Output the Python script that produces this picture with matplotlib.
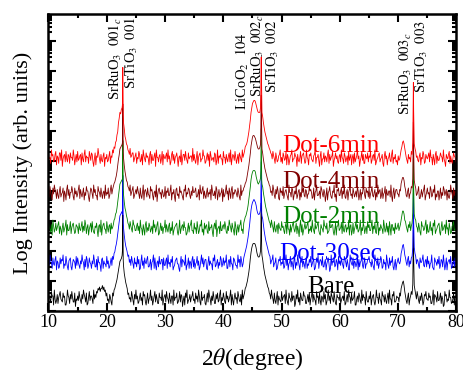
import numpy as np
import matplotlib
matplotlib.use('Agg')
import matplotlib.pyplot as plt
from matplotlib.ticker import LogLocator, NullFormatter, MultipleLocator
from matplotlib.transforms import blended_transform_factory

plt.rcParams['font.family'] = ['Liberation Serif', 'DejaVu Serif']
plt.rcParams['mathtext.fontset'] = 'stix'

# ---------------- data ----------------
# scan: 2theta from 10 deg, one value every 0.25 deg ("on" list) and one in between ("mid" list)
two_theta_start = 10.0
two_theta_step = 0.25
# extra measured points across the sharp SrTiO3 substrate reflections
sharp_two_theta = [22.68, 22.72, 22.78, 22.82, 46.42, 46.47, 46.53, 46.58, 72.55, 72.6, 72.65]

# log-intensity, in units of 0.05 decade relative to each trace's baseline
unit_decade = 0.05

bare_on = [
    -2, -6, -1, -4, 0, -9, -3, -5, -1, -7, -2, -4, -10, 0, -5, -3, -1, -8, -2, -6,
    -4, -1, -7, -3, 0, -5, -2, -9, -1, -4, -6, 0, -3, -1, 1, 2, 1, 3, 2, 0,
    -2, -6, -3, -8, -2, 0, 3, 7, 13, 19, 21, 50, 11, 5, 1, -2, -5, -1, -7, -3,
    0, -4, -8, -2, -5, -1, -3, -10, -2, -6, 0, -4, -7, -1, -3, -9, -2, -5, 0, -6,
    -3, -1, -6, -2, -9, -4, 0, -5, -2, -8, -1, -3, -11, -4, -2, 0, -7, -3, -5, -1,
    -6, -2, -4, 0, -8, -1, -5, -3, -10, -2, 0, -6, -4, -1, -9, -3, -2, -7, 0, -5,
    -2, -8, -1, -4, -6, 0, -3, -10, -2, -5, -1, -7, -3, 0, -4, 1, 4, 9, 16, 25,
    30, 31, 30, 25, 22, 23, 58, 20, 13, 8, 4, 1, -3, 0, -6, -2, -9, -1, -4, -7,
    -1, -5, -3, 0, -8, -2, -6, -1, -4, -11, -3, 0, -5, -2, -7, -1, -4, -9, -3, -2,
    -6, 0, -3, -7, -1, -4, -2, -10, -5, -1, -3, -8, 0, -4, -2, -6, -1, -9, -3, -5,
    -2, -7, -4, -1, -9, -3, 0, -5, -2, -6, -1, -10, -4, -2, -7, 0, -3, -5, -1, -8,
    -4, -1, -6, -3, -10, 0, -5, -2, -7, -1, -4, -3, -9, -2, 0, -6, -3, -1, -8, -4,
    -5, -2, 1, 5, 3, -4, -9, -2, -6, -1, 4, 3, -3, -1, -7, -4, -2, -10, -3, -1,
    -6, -2, -4, -9, 0, -3, -5, -1, -7, -2, -4, -11, -1, -3, -6, 0, -5, -8, -2, -4,
]
bare_mid = [
    -5, -8, -4, -10, -6, -7, -9, -3, -6, -8, -5, -10, -7, -4, -9, -6, -5, -8, -11, -7,
    -7, -5, -9, -6, -3, -8, -10, -5, -7, -4, -9, -6, -5, -2, 0, -1, 1, 0, -1, -4,
    -7, -9, -5, -10, -4, 1, 5, 10, 16, 20, 23, 16, 8, 3, -3, -6, -8, -4, -10, -6,
    -6, -9, -5, -7, -10, -4, -8, -6, -9, -5, -7, -10, -4, -8, -6, -9, -5, -7, -10, -4,
    -8, -5, -9, -6, -4, -10, -7, -5, -9, -6, -8, -4, -7, -10, -5, -9, -6, -8, -4, -7,
    -9, -6, -8, -4, -10, -7, -5, -9, -6, -8, -4, -10, -7, -5, -9, -6, -8, -3, -10, -7,
    -5, -9, -6, -8, -4, -10, -7, -5, -6, -9, -4, -8, -10, -6, -2, 2, 6, 12, 21, 28,
    31, 31, 28, 23, 22, 26, 23, 16, 10, 6, 2, -2, -6, -4, -9, -7, -5, -10, -6, -8,
    -7, -4, -9, -6, -10, -5, -8, -7, -4, -9, -6, -8, -10, -5, -7, -4, -9, -6, -8, -10,
    -4, -8, -6, -10, -5, -9, -7, -4, -8, -6, -10, -5, -7, -9, -4, -8, -6, -10, -5, -7,
    -9, -5, -7, -10, -6, -8, -4, -9, -7, -5, -10, -6, -8, -4, -9, -7, -5, -10, -6, -8,
    -6, -10, -4, -8, -7, -5, -9, -6, -10, -4, -8, -7, -5, -9, -6, -10, -4, -8, -7, -5,
    -8, -4, 3, 6, -1, -7, -5, -10, -4, -3, 32, 0, -6, -4, -9, -7, -5, -8, -4, -6,
    -7, -5, -9, -6, -10, -4, -8, -7, -5, -9, -6, -10, -4, -8, -7, -5, -9, -6, -10, -4,
]
sec30_on = [
    -3, 0, -5, -2, -7, -1, -4, -9, -2, -3, 0, -6, -1, -8, -4, -2, -10, -3, -5, -1,
    -2, -7, -4, 0, -5, -3, -1, -9, -2, -6, -4, 0, -8, -3, -1, -5, -11, -2, -4, -6,
    -1, -4, -8, -2, -1, 1, 5, 10, 18, 26, 28, 53, 13, 6, 2, 0, -3, -1, -6, -2,
    -5, -1, -3, -9, 0, -4, -2, -6, -1, -8, -3, -5, 0, -2, -10, -4, -1, -6, -3, -2,
    -7, -2, 0, -5, -3, -1, -8, -4, -2, -6, -11, -1, -3, -5, 0, -7, -2, -4, -9, -1,
    -3, -6, -1, -4, -8, 0, -2, -5, -3, -10, -1, -4, -6, -2, 0, -7, -3, -5, -1, -8,
    -2, -4, 0, -9, -3, -1, -6, -2, -5, -7, 0, -3, -1, -8, -2, 2, 6, 12, 20, 30,
    35, 37, 35, 30, 27, 28, 62, 24, 16, 10, 6, 2, -1, -4, 0, -6, -2, -9, -3, -1,
    -5, -2, -8, 0, -3, -6, -1, -4, -10, -2, -5, 0, -7, -3, -1, -4, -9, -2, -6, -3,
    -1, -6, -3, -9, -2, 0, -5, -4, -1, -8, -3, -6, -2, -11, 0, -4, -2, -7, -5, -1,
    -4, -2, -7, -1, -5, -3, -10, 0, -6, -2, -4, -8, -1, -3, -5, 0, -9, -2, -6, -3,
    -1, -5, -3, -8, 0, -4, -2, -6, -1, -9, -3, -5, 0, -7, -2, -4, -1, -10, -3, -6,
    -2, -6, 1, 6, 4, -2, -7, -1, -4, -2, 5, 5, -1, -3, -7, -2, -5, 0, -8, -3,
    -1, -4, -6, 0, -9, -2, -5, -3, -1, -7, -4, 0, -10, -2, -5, -3, -1, -8, -4, -2,
]
sec30_mid = [
    -7, -4, -9, -6, -3, -10, -5, -8, -6, -4, -9, -7, -5, -10, -3, -8, -6, -4, -9, -7,
    -5, -9, -6, -4, -10, -8, -3, -7, -5, -9, -6, -4, -8, -10, -5, -7, -3, -9, -6, -8,
    -6, -9, -5, -7, -3, 2, 7, 14, 22, 27, 29, 18, 9, 4, -1, -5, -7, -4, -9, -6,
    -8, -6, -10, -4, -7, -9, -5, -3, -8, -6, -10, -4, -9, -7, -5, -8, -6, -3, -10, -7,
    -4, -9, -6, -8, -5, -10, -7, -3, -6, -9, -5, -8, -4, -7, -10, -6, -9, -5, -3, -8,
    -9, -5, -7, -10, -4, -6, -8, -3, -9, -5, -7, -6, -10, -4, -8, -5, -9, -7, -3, -6,
    -7, -5, -9, -4, -8, -6, -10, -3, -7, -9, -5, -8, -4, -6, 0, 4, 9, 16, 25, 33,
    36, 36, 33, 28, 27, 30, 26, 20, 13, 8, 4, 0, -6, -3, -8, -5, -10, -6, -4, -7,
    -6, -9, -4, -7, -10, -5, -8, -6, -3, -9, -7, -4, -10, -5, -8, -6, -4, -9, -7, -5,
    -8, -4, -10, -6, -5, -9, -3, -7, -8, -5, -10, -4, -6, -9, -7, -5, -8, -3, -10, -6,
    -7, -5, -9, -3, -8, -6, -10, -4, -7, -9, -5, -6, -10, -8, -4, -7, -5, -9, -6, -3,
    -5, -8, -6, -10, -4, -7, -9, -5, -3, -8, -6, -10, -4, -9, -7, -5, -8, -6, -10, -4,
    -5, -4, 3, 7, 0, -5, -3, -8, -6, -1, 34, 1, -6, -4, -9, -5, -3, -7, -4, -8,
    -6, -9, -5, -8, -10, -4, -7, -6, -9, -3, -8, -5, -7, -10, -4, -6, -9, -5, -8, -7,
]
min2_on = [
    -1, -6, -3, 0, -8, -2, -5, -1, -4, -10, -2, -6, 0, -3, -7, -1, -5, -2, -9, -3,
    -5, -2, -7, -1, -4, 0, -9, -3, -6, -2, -1, -8, -4, -2, -11, -3, 0, -5, -2, -6,
    -1, -8, -3, -2, -5, 0, 4, 8, 16, 24, 26, 53, 12, 6, 1, -3, -1, -6, 0, -4,
    -7, -2, -4, 0, -6, -3, -10, -1, -5, -2, -8, -4, 0, -3, -6, -1, -9, -2, -4, -5,
    0, -3, -8, -2, -5, -1, -7, -4, -2, -10, 0, -6, -3, -1, -5, -9, -2, -4, 0, -7,
    -2, -5, -1, -9, -3, 0, -6, -2, -4, -8, -1, -5, -3, -11, -2, 0, -6, -4, -1, -7,
    -3, -1, -8, -4, 0, -5, -2, -7, -1, -10, -3, -4, 0, -6, -2, 2, 5, 10, 18, 27,
    32, 33, 32, 27, 24, 26, 61, 22, 15, 9, 5, 1, -2, 0, -5, -1, -8, -3, -2, -6,
    -1, -4, -9, -2, 0, -6, -3, -5, -1, -8, -2, -4, -11, 0, -3, -7, -2, -5, -1, -6,
    -4, 0, -7, -2, -5, -1, -9, -3, -6, 0, -4, -2, -8, -1, -5, -3, -10, -2, -4, 0,
    -6, -2, -1, -8, -3, -5, 0, -4, -10, -2, -6, -1, -3, -7, 0, -5, -2, -9, -4, -1,
    -3, -7, 0, -4, -2, -9, -1, -5, -3, -6, 0, -8, -2, -4, -1, -10, -3, -5, -2, -6,
    -2, -5, 0, 6, 4, -1, -6, -3, -1, -4, 5, 4, 0, -5, -2, -8, -1, -4, -6, 0,
    -3, -8, -1, -5, -2, 0, -7, -4, -2, -10, -1, -6, -3, 0, -5, -2, -9, -4, -1, -6,
]
min2_mid = [
    -5, -8, -10, -4, -6, -7, -3, -9, -6, -5, -8, -4, -10, -7, -5, -9, -3, -6, -8, -4,
    -9, -6, -4, -8, -7, -3, -5, -10, -4, -8, -6, -9, -5, -7, -4, -8, -10, -3, -6, -9,
    -5, -4, -9, -6, -3, 1, 5, 12, 20, 25, 27, 17, 8, 3, -2, -6, -4, -8, -3, -7,
    -4, -7, -9, -5, -10, -6, -3, -8, -7, -4, -6, -9, -5, -8, -3, -10, -6, -7, -9, -5,
    -8, -6, -4, -9, -7, -10, -5, -3, -8, -6, -9, -4, -7, -5, -10, -6, -8, -3, -7, -9,
    -6, -9, -5, -7, -4, -8, -10, -6, -3, -9, -7, -5, -8, -4, -6, -11, -5, -9, -7, -4,
    -6, -4, -9, -7, -3, -8, -5, -10, -4, -6, -8, -3, -7, -9, 0, 3, 7, 14, 22, 30,
    33, 33, 29, 25, 25, 28, 24, 18, 12, 7, 3, -1, -5, -3, -8, -6, -4, -9, -5, -7,
    -5, -7, -4, -9, -6, -10, -8, -3, -6, -5, -9, -7, -4, -8, -10, -5, -6, -3, -9, -7,
    -8, -5, -9, -6, -3, -7, -10, -5, -8, -4, -6, -9, -7, -5, -3, -8, -6, -10, -4, -7,
    -5, -9, -7, -4, -8, -6, -10, -3, -7, -9, -4, -6, -8, -5, -10, -7, -4, -6, -9, -5,
    -7, -4, -9, -6, -8, -3, -10, -7, -5, -9, -4, -6, -8, -10, -5, -3, -7, -9, -6, -4,
    -7, -3, 3, 6, 0, -4, -8, -5, -7, -2, 33, 1, -4, -8, -5, -10, -4, -7, -3, -9,
    -8, -5, -7, -10, -4, -9, -6, -3, -8, -5, -7, -4, -9, -6, -10, -5, -8, -3, -7, -6,
]
min4_on = [
    -4, -1, -7, -2, 0, -5, -3, -9, -1, -6, -2, -4, -10, 0, -3, -5, -1, -8, -2, -4,
    -6, 0, -3, -8, -2, -5, -1, -4, -11, -2, -6, 0, -3, -7, -1, -5, -2, -9, -4, 0,
    -5, -2, -7, 0, -3, 1, 4, 9, 17, 24, 26, 54, 13, 6, 2, -2, 0, -5, -1, -7,
    -3, -1, -6, -2, -9, 0, -4, -5, -2, -7, -1, -3, -10, -4, 0, -6, -2, -5, -3, -8,
    -1, -4, -2, -7, 0, -5, -3, -11, -2, -6, -1, -4, -8, -3, 0, -5, -2, -7, -4, -1,
    -5, -2, -8, -3, 0, -6, -1, -4, -9, -2, -5, -3, 0, -7, -4, -1, -10, -3, -6, -2,
    -3, -7, 0, -4, -2, -9, -1, -5, -3, -6, -2, -8, 0, -4, -2, 1, 4, 10, 17, 26,
    32, 33, 31, 27, 24, 25, 60, 21, 14, 9, 5, 2, -1, -4, 0, -7, -3, -1, -9, -2,
    -4, -1, -6, -3, -8, 0, -5, -2, -10, -4, -1, -7, -3, -5, 0, -2, -8, -4, -6, -1,
    -3, -9, -2, -5, 0, -7, -4, -1, -6, -3, -11, -2, -5, -1, -8, -4, 0, -6, -3, -2,
    -7, -2, -4, 0, -9, -3, -5, -1, -6, -2, -8, -4, -1, -10, -3, -5, 0, -7, -2, -4,
    -2, -6, -1, -8, -3, -5, 0, -4, -9, -2, -6, -1, -3, -7, -4, 0, -11, -2, -5, -3,
    -6, -3, 1, 5, 3, -3, -8, -2, -6, -1, 4, 3, -2, -6, -1, -9, -3, -5, 0, -7,
    -2, -5, -1, -8, -3, 0, -6, -4, -10, -2, -5, -1, -7, -3, -4, -9, 0, -6, -2, -4,
]
min4_mid = [
    -8, -5, -10, -6, -3, -9, -7, -4, -8, -5, -11, -6, -3, -7, -9, -5, -4, -10, -6, -8,
    -3, -9, -6, -5, -10, -7, -4, -8, -6, -3, -9, -5, -7, -10, -4, -8, -6, -5, -9, -7,
    -6, -9, -3, -6, -1, 2, 6, 13, 20, 25, 27, 18, 9, 3, -1, -4, -7, -3, -9, -5,
    -6, -4, -9, -7, -5, -10, -3, -8, -6, -9, -4, -7, -5, -8, -11, -3, -6, -9, -5, -7,
    -9, -5, -7, -4, -10, -6, -8, -3, -7, -9, -5, -6, -10, -4, -8, -6, -3, -9, -7, -5,
    -4, -8, -6, -10, -5, -3, -9, -7, -5, -8, -6, -10, -4, -7, -9, -3, -6, -8, -5, -11,
    -8, -4, -6, -10, -5, -3, -9, -6, -4, -8, -5, -10, -7, -4, -1, 2, 7, 13, 21, 29,
    33, 32, 29, 25, 24, 27, 24, 17, 11, 7, 3, 0, -5, -7, -3, -9, -6, -4, -10, -5,
    -7, -9, -4, -6, -10, -5, -8, -3, -7, -6, -9, -4, -10, -8, -5, -7, -3, -9, -6, -4,
    -5, -8, -10, -4, -7, -6, -9, -3, -8, -5, -7, -10, -4, -6, -9, -5, -8, -11, -4, -7,
    -4, -9, -6, -8, -5, -10, -3, -7, -9, -5, -6, -8, -4, -7, -10, -6, -3, -9, -5, -8,
    -9, -4, -7, -5, -10, -8, -6, -3, -7, -9, -5, -11, -6, -4, -8, -7, -5, -9, -3, -6,
    -8, -4, 3, 5, -1, -7, -4, -9, -5, -2, 33, 0, -7, -4, -9, -6, -8, -3, -10, -5,
    -6, -9, -3, -7, -5, -10, -8, -4, -6, -9, -7, -3, -5, -10, -8, -6, -4, -9, -7, -5,
]
min6_on = [
    -2, -5, 0, -3, -7, -1, -4, -9, -2, 0, -6, -3, -1, -8, -4, -2, -5, 0, -10, -3,
    -1, -6, -3, -2, -8, 0, -4, -5, -1, -7, -3, -11, -2, -4, 1, -6, -3, -8, -2, -5,
    -3, -7, -1, -4, 0, 2, 5, 10, 18, 25, 27, 55, 14, 7, 3, -1, 1, -4, -2, -6,
    -2, -5, -1, -8, -3, 0, -6, -2, -4, -10, -1, -3, -7, -2, 0, -5, -4, -9, -1, -3,
    -6, -2, 0, -4, -8, -1, -3, -5, -2, -11, -4, 0, -6, -3, -1, -7, -2, -5, -4, 1,
    -3, -9, -1, -5, -2, -6, 0, -4, -8, -2, -3, -1, -7, -5, -2, -10, 0, -4, -3, -6,
    -1, -5, -3, -8, -2, 0, -6, -4, -1, -9, -3, -2, -6, 0, -3, 2, 4, 9, 16, 25,
    31, 33, 32, 28, 25, 25, 62, 22, 15, 10, 6, 3, 0, -3, -1, -6, -2, -8, -4, 0,
    -5, -2, -7, -1, -3, -10, -4, 0, -6, -2, -5, -3, -8, -1, -4, -2, -9, 0, -6, -3,
    -2, -7, -4, 0, -5, -3, -11, -1, -6, -2, -4, -8, 0, -3, -5, -1, -7, -2, -4, -9,
    -3, 0, -6, -2, -8, -4, -1, -5, -10, -3, -2, -6, 0, -4, -7, -1, -3, -9, -5, -2,
    -4, -1, -7, -3, 0, -8, -5, -2, -6, -3, -11, -1, -4, -6, -2, -8, 0, -5, -3, -7,
    -4, -6, 0, 5, 4, -2, -7, -3, -5, -1, 5, 4, -1, -4, -8, -2, -5, -1, -9, -3,
    -6, -2, 0, -5, -3, -10, -1, -4, -7, -2, -5, 0, -8, -3, -6, -1, -4, -9, -2, -5,
]
min6_mid = [
    -6, -9, -4, -8, -3, -10, -5, -2, -7, -11, -4, -8, -6, -3, -9, -5, -7, -4, -6, -8,
    -7, -4, -10, -6, -3, -8, -5, -9, -4, -2, -8, -6, -10, -5, -3, -9, -7, -4, -11, -6,
    -8, -4, -9, -5, -2, 1, 6, 12, 21, 24, 28, 18, 9, 4, 0, -3, -5, -2, -8, -4,
    -9, -6, -3, -7, -10, -4, -8, -5, -6, -3, -9, -7, -4, -11, -5, -8, -3, -6, -10, -5,
    -4, -8, -6, -10, -3, -7, -9, -4, -6, -5, -8, -10, -3, -7, -5, -9, -6, -4, -8, -7,
    -7, -5, -10, -3, -8, -6, -4, -9, -5, -7, -11, -4, -6, -8, -3, -7, -9, -5, -6, -10,
    -5, -9, -6, -4, -8, -10, -3, -7, -5, -6, -9, -4, -8, -5, -1, 3, 6, 12, 20, 28,
    32, 33, 30, 26, 25, 28, 25, 18, 12, 8, 4, 1, -2, -6, -4, -9, -5, -7, -3, -8,
    -9, -4, -6, -10, -5, -7, -3, -8, -6, -4, -11, -7, -5, -9, -3, -6, -8, -5, -10, -4,
    -6, -8, -3, -9, -5, -7, -4, -10, -6, -8, -5, -3, -9, -7, -4, -11, -5, -6, -8, -4,
    -8, -5, -9, -4, -6, -10, -7, -3, -5, -9, -8, -4, -6, -11, -5, -7, -9, -3, -6, -8,
    -5, -9, -4, -7, -10, -6, -3, -8, -5, -9, -4, -6, -10, -5, -7, -3, -9, -6, -8, -10,
    -7, -3, 2, 6, 1, -5, -9, -6, -8, -3, 36, 1, -5, -7, -4, -10, -6, -3, -8, -5,
    -4, -8, -5, -10, -6, -3, -9, -7, -5, -4, -8, -6, -11, -5, -3, -9, -7, -6, -4, -8,
]

bare_sharp = [26, 46, 42, 20, 33, 54, 48, 26, 24, 40, 22]
sec30_sharp = [27, 47, 43, 21, 34, 56, 50, 28, 25, 41, 23]
min2_sharp = [27, 47, 43, 21, 33, 55, 49, 27, 25, 41, 23]
min4_sharp = [28, 48, 44, 22, 34, 56, 50, 28, 26, 42, 24]
min6_sharp = [30, 50, 46, 24, 36, 58, 52, 30, 28, 45, 26]

series_labels = ['Bare', 'Dot-30sec', 'Dot-2min', 'Dot-4min', 'Dot-6min']
series_colors = ['#000000', '#0000ff', '#008000', '#800000', '#ff0000']
series_baseline = [0.70, 1.87, 3.03, 4.20, 5.37]   # decades (vertical offset of each trace)
series_on = [bare_on, sec30_on, min2_on, min4_on, min6_on]
series_mid = [bare_mid, sec30_mid, min2_mid, min4_mid, min6_mid]
series_sharp = [bare_sharp, sec30_sharp, min2_sharp, min4_sharp, min6_sharp]
label_log = [0.60, 1.70, 2.93, 4.10, 5.30]
label_two_theta = 58.45

peak_labels = [r'SrRuO$_3$  $\mathit{001}_c$', r'SrTiO$_3$  $\mathit{001}$',
               r'LiCoO$_2$  $\mathit{104}$', r'SrRuO$_3$  $\mathit{002}_c$',
               r'SrTiO$_3$  $\mathit{002}$', r'SrRuO$_3$  $\mathit{003}_c$',
               r'SrTiO$_3$  $\mathit{003}$']
peak_label_x = [21.45, 24.15, 43.35, 45.9, 48.45, 71.3, 74.0]
peak_label_top = [0.990, 0.990, 0.939, 0.997, 0.980, 0.939, 0.980]

x_ticks = [10, 20, 30, 40, 50, 60, 70, 80]

# ---------------- plot ----------------
fig = plt.figure(figsize=(4.64, 3.71), dpi=100)
ax = fig.add_axes([48.5 / 464, 1 - 311 / 371, (456.5 - 48.5) / 464, (311 - 14) / 371])

for lab, col, base, on, mid, sharp in zip(series_labels, series_colors, series_baseline,
                                            series_on, series_mid, series_sharp):
    x_on = two_theta_start + two_theta_step * np.arange(len(on))
    x_mid = two_theta_start + two_theta_step / 2 + two_theta_step * np.arange(len(mid))
    x = np.concatenate([x_on, x_mid, np.array(sharp_two_theta)])
    v = np.concatenate([np.array(on, float), np.array(mid, float), np.array(sharp, float)])
    order = np.argsort(x, kind='stable')
    ax.plot(x[order], 10 ** (base + unit_decade * v[order]), color=col, lw=0.6)

for lab, col, ly in zip(series_labels, series_colors, label_log):
    ax.text(label_two_theta, 10 ** ly, lab, color=col, fontsize=18,
            ha='center', va='baseline')

trans = blended_transform_factory(ax.transData, ax.transAxes)
for txt, px, pt in zip(peak_labels, peak_label_x, peak_label_top):
    ax.text(px, pt, txt, rotation=90, ha='center', va='top', fontsize=10.5,
            transform=trans)

ax.set_yscale('log')
ax.set_xlim(10, 80)
ax.set_ylim(1, 10 ** 9.9)
ax.set_xticks(x_ticks)
ax.xaxis.set_minor_locator(MultipleLocator(5))
ax.yaxis.set_major_locator(LogLocator(base=10, numticks=20))
ax.yaxis.set_minor_locator(LogLocator(base=10, subs=np.arange(2, 10), numticks=100))
ax.yaxis.set_major_formatter(NullFormatter())
ax.yaxis.set_minor_formatter(NullFormatter())

ax.tick_params(which='both', direction='in', top=True, right=True, width=1.5)
ax.tick_params(which='major', length=6)
ax.tick_params(which='minor', length=3)
ax.tick_params(axis='x', labelsize=13, pad=2)
for s in ax.spines.values():
    s.set_linewidth(1.8)

ax.set_xlabel(r'2$\theta$(degree)', fontsize=17)
ax.xaxis.set_label_coords(0.5, -0.118)
ax.xaxis.label.set_va('top')
ax.set_ylabel('Log Intensity (arb. units)', fontsize=16)
ax.yaxis.set_label_coords(-0.038, 0.5)

fig.savefig('out.png', dpi=100)
